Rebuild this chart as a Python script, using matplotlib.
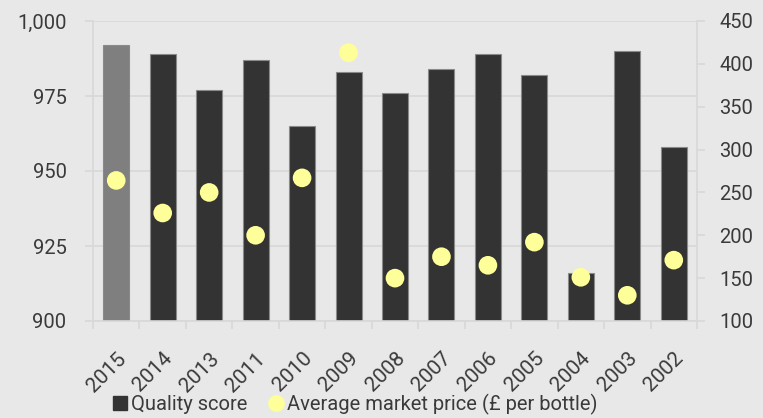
import matplotlib.pyplot as plt
from matplotlib.lines import Line2D
import numpy as np

years = ['2015', '2014', '2013', '2011', '2010', '2009', '2008',
         '2007', '2006', '2005', '2004', '2003', '2002']
quality = [992, 989, 977, 987, 965, 983, 976, 984, 989, 982, 916, 990, 958]
price = [264, 226, 250, 200, 267, 413, 150, 175, 165, 192, 151, 130, 171]

bg = '#e8e8e8'
txt = '#3a3a3a'
grid_c = '#d8d8d8'

plt.rcParams['font.family'] = ['Roboto', 'DejaVu Sans']

fig = plt.figure(figsize=(7.63, 4.18), dpi=100, facecolor=bg)
ax = fig.add_axes([93/763, 1-321/418, 604/763, 300/418])
ax.set_facecolor(bg)

x = np.arange(len(years))
colors = ['#7f7f7f'] + ['#333333'] * (len(years) - 1)
ax.bar(x, quality, width=0.56, color=colors, edgecolor='#8a8a8a', linewidth=0.8, zorder=2)
ax.set_ylim(900, 1000)
ax.set_xlim(-0.5, len(years) - 0.5)
ax.set_yticks([900, 925, 950, 975, 1000])
ax.set_yticklabels(['900', '925', '950', '975', '1,000'])
ax.grid(axis='y', color=grid_c, linewidth=1.2, zorder=0)
ax.set_axisbelow(True)

ax.set_xticks(x)
ax.set_xticklabels(years, rotation=45, ha='right', rotation_mode='anchor')
ax.set_xticks(np.arange(-0.5, len(years)), minor=True)
ax.tick_params(axis='x', which='major', length=0, pad=20, labelsize=15, labelcolor=txt)
ax.tick_params(axis='x', which='minor', length=6, color=grid_c, width=1.2)
ax.tick_params(axis='y', length=6, color=grid_c, width=1.2, labelsize=14.5, labelcolor=txt, pad=13)

for s in ['top', 'right']:
    ax.spines[s].set_visible(False)
for s in ['left', 'bottom']:
    ax.spines[s].set_color(grid_c)
    ax.spines[s].set_linewidth(1.2)

ax2 = ax.twinx()
ax2.scatter(x, price, s=180, color='#ffff99', edgecolor='none', zorder=3)
ax2.set_ylim(100, 450)
ax2.set_yticks(range(100, 451, 50))
ax2.tick_params(axis='y', length=6, color=grid_c, width=1.2, labelsize=14.5, labelcolor=txt, pad=10)
for s in ['top', 'left', 'bottom']:
    ax2.spines[s].set_visible(False)
ax2.spines['right'].set_color(grid_c)
ax2.spines['right'].set_linewidth(1.2)

handles = [
    Line2D([], [], marker='s', linestyle='none', markersize=10, color='#333333'),
    Line2D([], [], marker='o', linestyle='none', markersize=11, color='#ffff99'),
]
fig.legend(handles, ['Quality score', 'Average market price (£ per bottle)'],
           loc='lower center', bbox_to_anchor=(355/763, -0.035), ncol=2, frameon=False,
           fontsize=14.5, labelcolor=txt, handletextpad=0.15, columnspacing=1.0,
           handlelength=0.8)

fig.savefig('out.png', dpi=100, facecolor=bg)
